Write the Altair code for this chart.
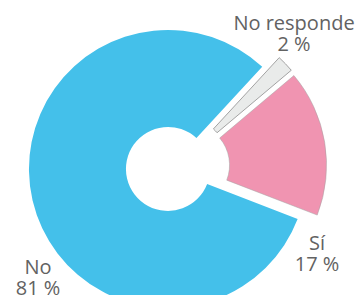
import math
import altair as alt
import pandas as pd

# ---- data ----
categories = ["No responde", "Sí", "No"]
values = [2, 17, 81]
orden = [0, 1, 2]
labels = ["No responde\n2 %", "Sí\n17 %", "No\n81 %"]

# ---- layout / style ----
colors = ["#E9EBEA", "#F094B1", "#44C0EA"]
stroke_widths = [1, 0, 0]
START = math.radians(42.7)
CX, CY = 169.7, 158.7   # pie centre (px)
EXPLODE = 10           # explode distance (px)
R_OUT, R_IN = 139, 42
LABEL_POS = {"No responde": (286, 22), "Sí": (309, 242), "No": (30, 266)}

df = pd.DataFrame({"cat": categories, "value": values, "orden": orden})
lab = pd.DataFrame({
    "cat": categories,
    "label": labels,
    "lx": [LABEL_POS[c][0] for c in categories],
    "ly": [LABEL_POS[c][1] for c in categories],
})

pie = (
    alt.Chart(df)
    .transform_joinaggregate(total="sum(value)")
    .transform_window(cum="sum(value)", sort=[alt.SortField("orden")])
    .transform_calculate(
        mid=f"{START} + 2*PI*(datum.cum - datum.value/2)/datum.total"
    )
    .transform_calculate(
        cx=f"{CX} + {EXPLODE}*sin(datum.mid)",
        cy=f"{CY} - {EXPLODE}*cos(datum.mid)",
    )
    .mark_arc(outerRadius=R_OUT, innerRadius=R_IN, stroke="#A3A3A3")
    .encode(
        theta=alt.Theta(
            "value:Q", stack=True,
            scale=alt.Scale(range=[START, START + 2 * math.pi]),
        ),
        order=alt.Order("orden:Q", sort="ascending"),
        color=alt.Color("cat:N", scale=alt.Scale(domain=categories, range=colors), legend=None),
        strokeWidth=alt.StrokeWidth("cat:N", scale=alt.Scale(domain=categories, range=stroke_widths), legend=None),
        x=alt.X("cx:Q", scale=None, axis=None),
        y=alt.Y("cy:Q", scale=None, axis=None),
    )
)

text = (
    alt.Chart(lab)
    .mark_text(
        font="Open Sans", fontSize=20, lineHeight=21, lineBreak="\n",
        align="center", baseline="alphabetic", color="#626262",
    )
    .encode(
        x=alt.X("lx:Q", scale=None, axis=None),
        y=alt.Y("ly:Q", scale=None, axis=None),
        text="label:N",
    )
)

chart = (
    alt.layer(pie, text)
    .properties(width=348, height=287, padding=0, autosize=alt.AutoSizeParams(type="none"))
    .configure_view(stroke=None)
)

chart.save("out.html", embed_options={"renderer": "svg", "actions": False})
